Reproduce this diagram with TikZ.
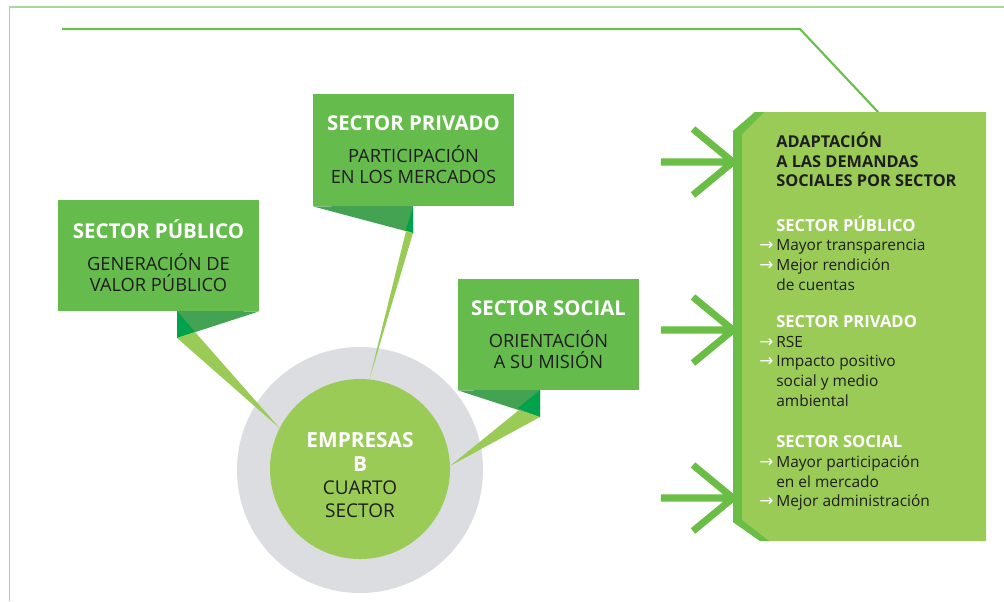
\documentclass[tikz,border=0pt]{standalone}
\usepackage{fontspec}
\setmainfont{Open Sans}
\newfontfamily\arrowfont{DejaVu Sans}
\usepackage{tikz}
\usetikzlibrary{positioning}
\definecolor{framegreen}{HTML}{A9D89A}
\definecolor{linegreen}{HTML}{6BBE4B}
\definecolor{boxgreen}{HTML}{66BB4D}
\definecolor{lightgreen}{HTML}{9BCB57}
\definecolor{tailgreen}{HTML}{43A352}
\definecolor{darkgreen}{HTML}{00A24B}
\definecolor{ringgrey}{HTML}{DCDDE1}
\definecolor{stripegreen}{HTML}{6ABE45}
\definecolor{inkdark}{HTML}{1E1E1E}
\newcommand{\boxtitle}[1]{{\color{white}\bfseries\fontsize{14.5}{15}\selectfont #1}}
\newcommand{\sechead}[1]{{\color{white}\bfseries\fontsize{11.8}{14}\selectfont #1}}
\newcommand{\pnhead}[1]{{\bfseries\fontsize{11.6}{14}\selectfont #1}}
\newcommand{\itm}{\llap{\color{white}\arrowfont\fontsize{12}{14}\selectfont →\hspace{2pt}}}

\begin{document}
\begin{tikzpicture}[x=0.025cm,y=-0.025cm,
    sectorbox/.style={fill=boxgreen, minimum height=2.775cm, align=center, inner sep=0pt,
      text=inkdark, font=\fontsize{13}{15}\selectfont},
    tail/.style={fill=tailgreen},
    taildark/.style={fill=darkgreen},
    pointer/.style={fill=lightgreen},
    chev/.style={draw=stripegreen, line width=5pt}]
  \useasboundingbox (0,0) rectangle (1004,601);
  \draw[framegreen, line width=1.4pt] (9.5,601) -- (9.5,7) -- (1004,7);

  \coordinate (t0) at (62,29);
  \coordinate (t1) at (800,29);
  \coordinate (t2) at (878,112);
  \draw[linegreen, line width=1.5pt] (t0) -- (t1) -- (t2);

  \coordinate (w1) at (733,162);
  \coordinate (w2) at (733,330);
  \coordinate (w3) at (733,498);
  \coordinate[left=1.8cm of w1] (a1);
  \coordinate[left=1.8cm of w2] (a2);
  \coordinate[left=1.8cm of w3] (a3);
  \foreach \i in {1,2,3}
    \draw[chev] (a\i) -- (w\i) (w\i) ++(-40,-33) -- (w\i) -- ++(-40,33);

  \fill[lightgreen] (755,112) -- (986,112) -- (986,541) -- (760,541) -- (733,522) -- (733,131) -- cycle;
  \fill[stripegreen] (755,112) -- (764,112) -- (742,134) -- (742,520) -- (769,541)
    -- (760,541) -- (733,522) -- (733,131) -- cycle;

  \node[anchor=north west, align=left, inner sep=0pt, text=inkdark,
    font=\fontsize{11}{14}\selectfont] (dem) at (776,132) {%
    \strut\pnhead{ADAPTACIÓN}\\
    \pnhead{A LAS DEMANDAS}\\
    \pnhead{SOCIALES POR SECTOR}\\[17.6pt]
    \sechead{SECTOR PÚBLICO}\\
    \itm Mayor transparencia\\
    \itm Mejor rendición\\
    de cuentas\\[12.3pt]
    \sechead{SECTOR PRIVADO}\\
    \itm RSE\\
    \itm Impacto positivo\\
    social y medio\\
    ambiental\\[15.6pt]
    \sechead{SECTOR SOCIAL}\\
    \itm Mayor participación\\
    en el mercado\\
    \itm Mejor administración};

  \node[sectorbox, minimum width=5.025cm] (pub) at (158.5,255.5)
    {\boxtitle{SECTOR PÚBLICO}\\[7.5pt] GENERACIÓN DE\\ VALOR PÚBLICO};
  \node[sectorbox, minimum width=5.025cm, minimum height=2.8cm] (pri) at (413.5,150)
    {\boxtitle{SECTOR PRIVADO}\\[7.5pt] PARTICIPACIÓN\\ EN LOS MERCADOS};
  \node[sectorbox, minimum width=4.525cm] (soc) at (548.5,334.5)
    {\boxtitle{SECTOR SOCIAL}\\[7.5pt] ORIENTACIÓN\\ A SU MISIÓN};

  \node[circle, fill=ringgrey, minimum size=6.15cm] (ring) at (360,470) {};
  \node[circle, fill=lightgreen, minimum size=4.5cm, align=center, inner sep=0pt,
    text=inkdark, font=\fontsize{13.5}{16.6}\selectfont] (emp) at (360,469)
    {\rule{0pt}{20pt}{\color{white}\bfseries\fontsize{14.8}{16.6}\selectfont EMPRESAS}\\
     {\color{white}\bfseries\fontsize{14.8}{16.6}\selectfont B}\\ CUARTO\\ SECTOR};

  \fill[tail] (177,311) -- (pub.south east) -- (177,338) -- cycle;
  \fill[taildark] (177,311) -- (195,332) -- (177,338) -- cycle;
  \coordinate (p1) at (177,338);
  \coordinate (p2) at (195,332);
  \fill[pointer] (p1) -- (p2) -- (emp.153) -- cycle;

  \fill[tail] (pri.south west) -- (413,206) -- (413,233) -- cycle;
  \fill[taildark] (413,207) -- (413,233) -- (406,230) -- cycle;
  \coordinate (q1) at (406,231);
  \coordinate (q2) at (413,233);
  \fill[pointer] (q1) -- (q2) -- (emp.84) -- cycle;

  \fill[tail] (soc.south west) -- (540,390) -- (540,417) -- cycle;
  \fill[taildark] (540,390) -- (540,417) -- (518,408) -- cycle;
  \coordinate (s1) at (519,410);
  \coordinate (s2) at (540,417);
  \fill[pointer] (s1) -- (s2) -- (emp.2) -- cycle;
\end{tikzpicture}
\end{document}
